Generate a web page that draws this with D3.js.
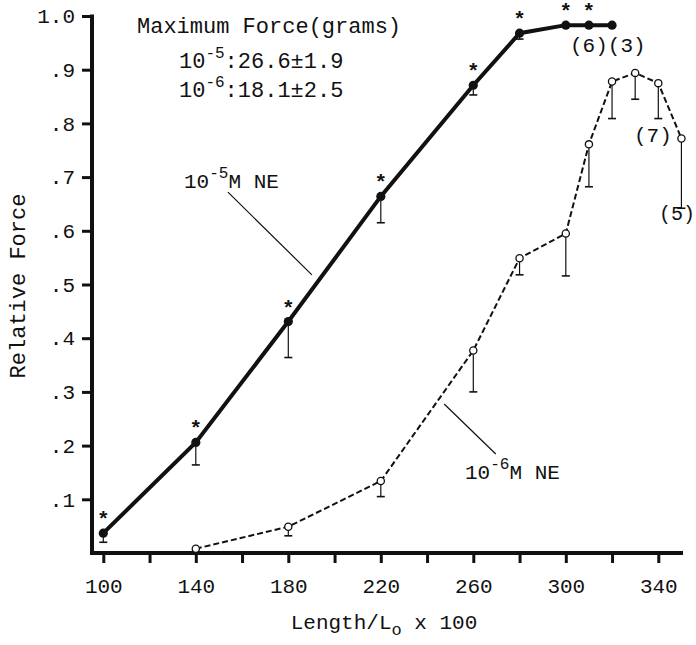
<!DOCTYPE html>
<html>
<head>
<meta charset="utf-8">
<script src="https://cdn.jsdelivr.net/npm/d3@7"></script>
<style>
  html, body { margin: 0; padding: 0; background: #fff; }
  svg { display: block; }
  text { font-family: "Liberation Mono", "DejaVu Sans Mono", monospace; fill: #111; }
</style>
</head>
<body>
<svg id="chart" width="696" height="645"></svg>
<script>
// ---------------- data ----------------
const len5   = [100, 140, 180, 220, 260, 280, 300, 310, 320];
const force5 = [0.037, 0.206, 0.431, 0.664, 0.871, 0.968, 0.983, 0.983, 0.983];
const low5   = [0.020, 0.164, 0.364, 0.615, 0.853, 0.957, null, null, null];
const star5  = [true, true, true, true, true, true, true, true, false];

const len6   = [140, 180, 220, 260, 280, 300, 310, 320, 330, 340, 350];
const force6 = [0.008, 0.049, 0.134, 0.377, 0.549, 0.595, 0.761, 0.878, 0.894, 0.875, 0.772];
const low6   = [null, 0.032, 0.105, 0.300, 0.518, 0.516, 0.682, 0.809, 0.845, 0.809, 0.642];

const xTicks = [100,120,140,160,180,200,220,240,260,280,300,320,340];
const xLabels = [100,140,180,220,260,300,340];
const yTicks = [0.1,0.2,0.3,0.4,0.5,0.6,0.7,0.8,0.9,1.0];

// ---------------- layout ----------------
const svg = d3.select("#chart");
const x = d3.scaleLinear().domain([100, 340]).range([103.3, 658.3]);
const y = d3.scaleLinear().domain([0, 1]).range([553, 16]);
const axisX = 92, axisRight = 683;

// axes
const yAxis = d3.axisLeft(y).tickValues(yTicks).tickSize(10).tickPadding(7).tickSizeOuter(0)
  .tickFormat(d => d >= 0.999 ? "1.0" : "." + Math.round(d * 10));
const gy = svg.append("g").attr("transform", `translate(${axisX},0)`).call(yAxis);
gy.select(".domain").remove();
gy.selectAll(".tick line").attr("stroke", "#111").attr("stroke-width", 3);
gy.selectAll(".tick text").style("font-size", "21px").attr("fill", "#111");

const xAxis = d3.axisBottom(x).tickValues(xTicks).tickSize(10).tickPadding(15).tickSizeOuter(0)
  .tickFormat(d => xLabels.includes(d) ? String(d) : "");
const gx = svg.append("g").attr("transform", `translate(0,${y(0)})`).call(xAxis);
gx.select(".domain").remove();
gx.selectAll(".tick line").attr("stroke", "#111").attr("stroke-width", 3);
gx.selectAll(".tick text").style("font-size", "21px").attr("fill", "#111");

// axis lines
svg.append("line").attr("x1", axisX).attr("x2", axisX).attr("y1", y(1) - 1.5).attr("y2", y(0) + 2)
  .attr("stroke", "#111").attr("stroke-width", 4);
svg.append("line").attr("x1", axisX - 2).attr("x2", axisRight).attr("y1", y(0)).attr("y2", y(0))
  .attr("stroke", "#111").attr("stroke-width", 4);

// axis titles
svg.append("text").attr("transform", "translate(25,286) rotate(-90)")
  .attr("text-anchor", "middle").style("font-size", "22px").text("Relative Force");
const xt = svg.append("text").attr("x", 384).attr("y", 629).attr("text-anchor", "middle").style("font-size", "21px");
xt.append("tspan").text("Length/L");
xt.append("tspan").attr("dy", 6).style("font-size", "17px").text("o");
xt.append("tspan").attr("dy", -6).text(" x 100");

// ---------------- series ----------------
const d5 = len5.map((l, i) => ({ l, v: force5[i], lo: low5[i], s: star5[i] }));
const d6 = len6.map((l, i) => ({ l, v: force6[i], lo: low6[i] }));

function errorBars(data) {
  const g = svg.append("g").attr("stroke", "#111");
  const e = data.filter(d => d.lo != null);
  g.selectAll("line.v").data(e).join("line").attr("class", "v")
    .attr("x1", d => x(d.l)).attr("x2", d => x(d.l))
    .attr("y1", d => y(d.v)).attr("y2", d => y(d.lo)).attr("stroke-width", 1.2);
  g.selectAll("line.c").data(e).join("line").attr("class", "c")
    .attr("x1", d => x(d.l) - 4).attr("x2", d => x(d.l) + 4)
    .attr("y1", d => y(d.lo)).attr("y2", d => y(d.lo)).attr("stroke-width", 1.6);
}
errorBars(d5);
errorBars(d6);

const line = d3.line().x(d => x(d.l)).y(d => y(d.v));
svg.append("path").datum(d6).attr("d", line).attr("fill", "none")
  .attr("stroke", "#111").attr("stroke-width", 2).attr("stroke-dasharray", "6,3");
svg.append("path").datum(d5).attr("d", line).attr("fill", "none")
  .attr("stroke", "#111").attr("stroke-width", 4);

svg.append("g").selectAll("circle").data(d6).join("circle")
  .attr("cx", d => x(d.l)).attr("cy", d => y(d.v)).attr("r", 3.6)
  .attr("fill", "#fff").attr("stroke", "#111").attr("stroke-width", 1.3);
svg.append("g").selectAll("circle").data(d5).join("circle")
  .attr("cx", d => x(d.l)).attr("cy", d => y(d.v)).attr("r", 4.6).attr("fill", "#111");

svg.append("g").selectAll("text").data(d5.filter(d => d.s)).join("text")
  .attr("x", d => x(d.l)).attr("y", d => y(d.v) - 7).attr("text-anchor", "middle")
  .style("font-size", "21px").style("font-weight", "bold").text("*");

// ---------------- annotations ----------------
function supText(px, py, base, sup, rest, size) {
  const t = svg.append("text").attr("x", px).attr("y", py).style("font-size", size + "px");
  t.append("tspan").text(base);
  t.append("tspan").attr("dy", -10).style("font-size", "16px").text(sup);
  t.append("tspan").attr("dy", 10).text(rest);
}
svg.append("text").attr("x", 137).attr("y", 33).style("font-size", "22px").text("Maximum Force(grams)");
supText(179, 68, "10", "-5", ":26.6\u00b11.9", 22);
supText(179, 97, "10", "-6", ":18.1\u00b12.5", 22);
supText(184, 188, "10", "-5", "M NE", 21);
supText(465, 479, "10", "-6", "M NE", 21);

// leader lines (in data units)
const leaders = [[[153.9, 0.672], [190.2, 0.518]], [[247.4, 0.2775], [269.7, 0.1844]]];
svg.append("g").selectAll("line").data(leaders).join("line")
  .attr("x1", d => x(d[0][0])).attr("y1", d => y(d[0][1]))
  .attr("x2", d => x(d[1][0])).attr("y2", d => y(d[1][1]))
  .attr("stroke", "#111").attr("stroke-width", 1.2);

svg.append("text").attr("x", 570).attr("y", 52).style("font-size", "21px").text("(6)(3)");
svg.append("text").attr("x", 634).attr("y", 142).style("font-size", "21px").text("(7)");
svg.append("text").attr("x", 695).attr("y", 220).attr("text-anchor", "end").style("font-size", "20px").text("(5)");
</script>
</body>
</html>
